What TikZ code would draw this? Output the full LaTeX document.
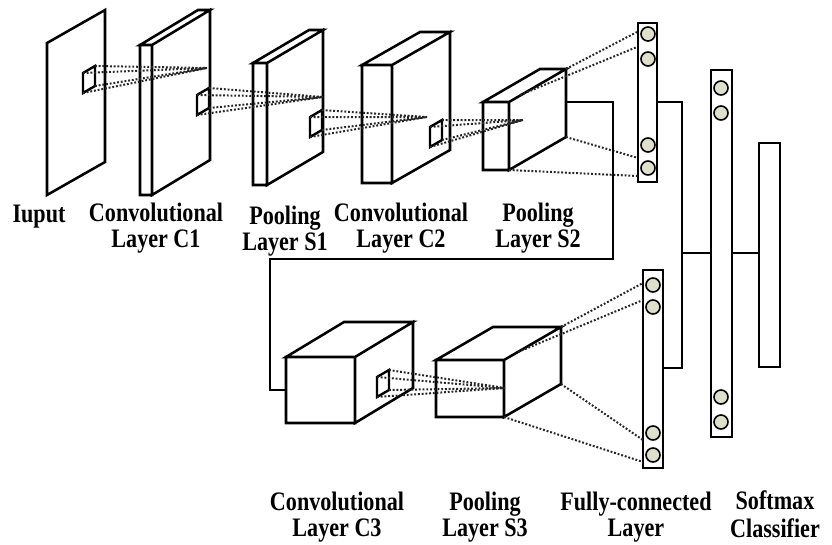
\documentclass[tikz,border=0pt]{standalone}
\usepackage{fontspec}
\setmainfont[FakeStretch=0.83]{Liberation Serif}
\usepackage{tikz}
\definecolor{neuronfill}{RGB}{222,224,204}

\begin{document}
\begin{tikzpicture}[x=0.75pt, y=-0.75pt,
    layer/.style={draw, line width=1.9pt, fill=white, line join=miter},
    window/.style={draw, line width=1.8pt},
    link/.style={black!85, line width=1.5pt, dash pattern=on 1.4pt off 1.4pt},
    wire/.style={line width=1.9pt},
    neuron/.style={draw, line width=1.2pt, fill=neuronfill},
    lbl/.style={font=\fontsize{20}{19.5}\selectfont\bfseries, align=center}]
    % pixel coordinates of the 832x544 figure, y pointing down
    \useasboundingbox (0,0) rectangle (832,544);
    % feature maps: front face (xa,ya)-(xb,yb), depth (dx,dy)
    \foreach \xa/\ya/\xb/\yb/\dx/\dy in {47/43/47/195/58/-33, 140/45/152/195/58/-35,
        253/63/267/185/56/-33, 362/65/392/183/58/-33, 483/102/509/170/57/-33,
        286/357/355/423/58/-35, 436/360/504/417/57/-33}
      \draw[layer] (\xa,\ya) rectangle (\xb,\yb)
        (\xa,\ya) -- ++(\dx,\dy) -- ({\xb+\dx},{\ya+\dy}) -- (\xb,\ya) -- cycle
        ({\xb+\dx},{\ya+\dy}) -- ({\xb+\dx},{\yb+\dy}) -- (\xb,\yb) -- (\xb,\ya) -- cycle;
    % receptive fields and the lines to the next map
    \foreach \wx/\wy/\px/\py in {83/73/207/68, 197/95/323/97, 310/117/427/117,
        430/127/523/120, 377/377/505/388} {
      \coordinate (p) at (\px,\py);
      \draw[window] (\wx,\wy) -- ++(12,-7) -- ++(0,20) -- ++(-12,7) -- cycle;
      \draw[link] (\wx,\wy) -- (p) ({\wx+12},{\wy-7}) -- (p)
        ({\wx+12},{\wy+13}) -- (p) (\wx,{\wy+20}) -- (p);
    }
    % fully-connected columns and softmax
    \draw[layer] (638,23) rectangle (657,182);
    \draw[layer] (643,270) rectangle (663,468);
    \draw[layer] (711,70) rectangle (732,437);
    \draw[layer] (759,143) rectangle (780,367);
    \foreach \y in {34,59,145,168}
      \draw[neuron] (648,\y) circle (7);
    \foreach \y in {285,307,433,455}
      \draw[neuron] (653,\y) circle (7);
    \foreach \y in {88,113,397,422}
      \draw[neuron] (721,\y) circle (7);
    % pooling layers to the fully-connected columns
    \draw[link] (566,69) -- (637,32) (520,95) -- (637,47)
      (566,137) -- (638,158) (509,170) -- (638,176);
    \draw[link] (561,327) -- (643,283) (518,352) -- (643,300)
      (561,384) -- (643,440) (504,417) -- (643,462);
    % connections
    \coordinate (s2out) at (566,102);
    \coordinate (c3in) at (286,390);
    \coordinate (fcaout) at (657,102);
    \coordinate (fcbout) at (663,368);
    \coordinate (fccin) at (711,253);
    \coordinate (fccout) at (732,253);
    \coordinate (smin) at (759,253);
    \draw[wire] (s2out) -| (613,259) -| (270,390) -- (c3in);
    \draw[wire] (fcaout) -| (682,368) -- (fcbout);
    \draw[wire] (682,253) -- (fccin);
    \draw[wire] (fccout) -- (smin);
    % labels
    \node[lbl] (tin) at (39,217) {Iuput\strut};
    \node[lbl] (tc1) at (156,229) {Convolutional\strut\\Layer C1\strut};
    \node[lbl] (ts1) at (285,232) {Pooling\strut\\Layer S1\strut};
    \node[lbl] (tc2) at (401,229) {Convolutional\strut\\Layer C2\strut};
    \node[lbl] (ts2) at (538,229) {Pooling\strut\\Layer S2\strut};
    \node[lbl] (tc3) at (337,518) {Convolutional\strut\\Layer C3\strut};
    \node[lbl] (ts3) at (485,518) {Pooling\strut\\Layer S3\strut};
    \node[lbl] (tfc) at (636,518) {Fully-connected\strut\\Layer\strut};
    \node[lbl] (tsm) at (775,518) {Softmax\strut\\Classifier\strut};
  \end{tikzpicture}
\end{document}
